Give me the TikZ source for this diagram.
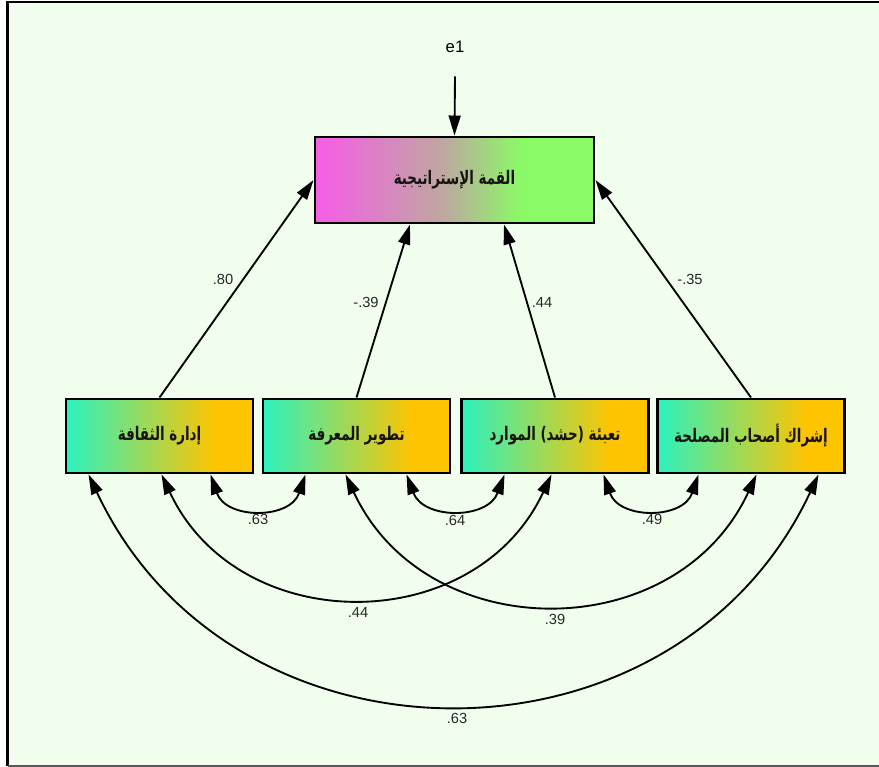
\documentclass[tikz,border=0pt]{standalone}
\usepackage{fontspec}
\setmainfont{Liberation Sans}
\newfontfamily\arabicfont[Script=Arabic]{DejaVu Sans}
\TeXXeTstate=1
\usetikzlibrary{arrows.meta,calc}
\definecolor{bgc}{RGB}{241,253,237}
\definecolor{pk}{RGB}{242,98,226}
\definecolor{tmid}{RGB}{190,168,160}
\definecolor{tgr}{RGB}{138,250,102}
\definecolor{aq}{RGB}{44,242,190}
\definecolor{og}{RGB}{255,196,0}
\definecolor{labc}{RGB}{40,40,40}
\definecolor{txc}{RGB}{25,20,20}
\pgfdeclarehorizontalshading{topsh}{100bp}{color(0bp)=(pk); color(27bp)=(pk); color(48bp)=(tmid); color(62bp)=(tgr); color(100bp)=(tgr)}
\pgfdeclarehorizontalshading{botsh}{100bp}{color(0bp)=(aq); color(25bp)=(aq); color(65bp)=(og); color(100bp)=(og)}
\newcommand{\artext}[1]{\scalebox{0.72}[1]{\beginR #1\endR}}
\begin{document}
\begin{tikzpicture}[x=0.75pt,y=-0.75pt,
  boxbase/.style={draw=black, line width=2.2pt, inner sep=0pt, shade, text=txc,
    font=\arabicfont\bfseries\fontsize{14}{16}\selectfont},
  topbox/.style={boxbase, shading=topsh, minimum width=279*0.75pt, minimum height=86*0.75pt},
  botbox/.style={boxbase, shading=botsh, minimum width=187*0.75pt, minimum height=74*0.75pt},
  lab/.style={font=\fontsize{11}{13}\selectfont, text=labc, inner sep=1pt},
  tip/.tip={Triangle[length=15pt,width=9pt]},
  arr/.style={line width=1.4pt, -tip},
  cov/.style={line width=1.4pt, tip-tip}]
\useasboundingbox (0,0) rectangle (879,767);
\fill[white] (0,0) rectangle (879,767);
\fill[bgc] (7.5,2) rectangle (879,765.5);
\draw[line width=2pt, black] (885,2) -- (7.5,2) -- (7.5,765.5);
\draw[line width=1.5pt, black!65] (7.5,765.5) -- (885,765.5);

% nodes
\node[topbox] (top) at (454.5,180) {\artext{القمة الإستراتيجية}};
\node[botbox] (b1) at (159.5,436) {\artext{إدارة الثقافة}};
\node[botbox] (b2) at (356.5,436) {\artext{تطوير المعرفة}};
\node[botbox] (b3) at (555,436) {\artext{تعبئة (حشد) الموارد}};
\node[botbox] (b4) at (751,436) {\artext{إشراك أصحاب المصلحة}};
\node[font=\fontsize{12.5}{14}\selectfont, inner sep=1pt] (e1) at (455,47) {e1};

% error arrow
\coordinate (e1s) at ($(e1.south)+(0,22)$);
\draw[arr] (e1s) -- (top.north);

% regression paths
\coordinate (t2) at ($(top.south)+(-44.5,0)$);
\coordinate (t3) at ($(top.south)+(49.5,0)$);
\draw[arr] (b1.north) -- (top.west);
\draw[arr] (b2.north) -- (t2);
\draw[arr] (b3.north) -- (t3);
\draw[arr] (b4.north) -- (top.east);
\node[lab] (r1) at (223,279) {.80};
\node[lab] (r2) at (366,302) {-.39};
\node[lab] (r3) at (542,302) {.44};
\node[lab] (r4) at (690,279) {-.35};

% covariance end points
\coordinate (c1a) at ($(b1.south west)+(24,0)$);
\coordinate (c1b) at ($(b1.south west)+(97,0)$);
\coordinate (c1c) at ($(b1.south west)+(146,0)$);
\coordinate (c2a) at ($(b2.south west)+(44,0)$);
\coordinate (c2b) at ($(b2.south west)+(84,0)$);
\coordinate (c2c) at ($(b2.south west)+(145,0)$);
\coordinate (c3a) at ($(b3.south west)+(44.5,0)$);
\coordinate (c3b) at ($(b3.south west)+(91.5,0)$);
\coordinate (c3c) at ($(b3.south west)+(143.5,0)$);
\coordinate (c4a) at ($(b4.south west)+(42.5,0)$);
\coordinate (c4b) at ($(b4.south west)+(100.5,0)$);
\coordinate (c4c) at ($(b4.south west)+(162.5,0)$);

\draw[cov] (c1c) .. controls +(15.5,45.2) and +(-15.5,45.2) .. (c2a);
\draw[cov] (c2c) .. controls +(16.9,45.3) and +(-16.9,45.3) .. (c3a);
\draw[cov] (c3c) .. controls +(15.5,45.2) and +(-15.5,45.2) .. (c4a);
\draw[cov] (c1b) .. controls +(76.7,164) and +(-76.7,164) .. (c3b);
\draw[cov] (c2b) .. controls +(80.4,173) and +(-80.4,173) .. (c4b);
\draw[cov] (c1a) .. controls +(143.4,306) and +(-143.4,306) .. (c4c);

\node[lab] (k1) at (258,519) {.63};
\node[lab] (k2) at (455,520) {.64};
\node[lab] (k3) at (652,519) {.49};
\node[lab] (k4) at (358,612) {.44};
\node[lab] (k5) at (555,619) {.39};
\node[lab] (k6) at (457,718) {.63};
\end{tikzpicture}
\end{document}
